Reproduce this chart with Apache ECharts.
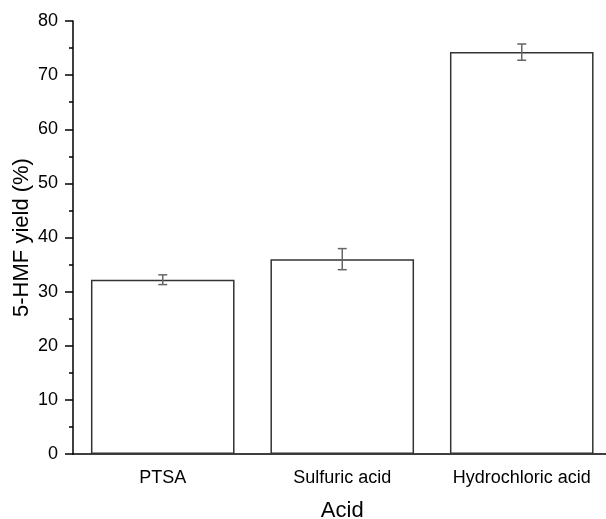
<!DOCTYPE html>
<html>
<head>
<meta charset="utf-8">
<script src="https://cdn.jsdelivr.net/npm/echarts@6/dist/echarts.min.js"></script>
<style>html,body{margin:0;padding:0;background:#fff}#c{width:606px;height:519px}</style>
</head>
<body>
<div id="c"></div>
<script>
var categories = ['PTSA', 'Sulfuric acid', 'Hydrochloric acid'];
var yieldValues = [32.2, 36.0, 74.25];
var yieldErrors = [0.9, 1.95, 1.5];
var yTicks = [0, 10, 20, 30, 40, 50, 60, 70, 80];

var chart = echarts.init(document.getElementById('c'));
var font = 'Liberation Sans, Arial, sans-serif';
chart.setOption({
  animation: false,
  grid: {left: 73, top: 21, bottom: 65, right: -5.5, outerBoundsMode: 'none', containLabel: false},
  xAxis: [{
    type: 'category',
    data: categories,
    name: 'Acid',
    nameLocation: 'middle',
    nameGap: 46,
    nameMoveOverlap: false,
    nameTextStyle: {fontFamily: font, fontSize: 22, color: '#000'},
    axisLine: {lineStyle: {color: '#000', width: 1.5}},
    axisTick: {alignWithLabel: true, length: 8, lineStyle: {color: '#000', width: 1.5}},
    axisLabel: {fontFamily: font, fontSize: 18, color: '#000', margin: 15}
  }, {
    type: 'category',
    data: categories,
    position: 'bottom',
    axisLine: {show: false},
    axisTick: {length: 4, lineStyle: {color: '#000', width: 1.5}},
    axisLabel: {show: false}
  }],
  yAxis: {
    type: 'value',
    min: 0, max: 80, interval: 10,
    name: '5-HMF yield (%)',
    nameLocation: 'middle',
    nameGap: 40,
    nameMoveOverlap: false,
    nameTextStyle: {fontFamily: font, fontSize: 22, color: '#000'},
    axisLine: {show: true, lineStyle: {color: '#000', width: 1.5}},
    axisTick: {show: true, length: 8, lineStyle: {color: '#000', width: 1.5}},
    minorTick: {show: true, splitNumber: 2, length: 4, lineStyle: {color: '#000', width: 1.5}},
    splitLine: {show: false},
    axisLabel: {fontFamily: font, fontSize: 18, color: '#000', margin: 15,
      formatter: function (v) { return yTicks.indexOf(v) >= 0 ? String(v) : ''; }}
  },
  series: [{
    type: 'bar',
    data: yieldValues,
    barWidth: '80%',
    itemStyle: {color: '#fff', borderColor: '#333', borderWidth: 1.5}
  }, {
    type: 'custom',
    data: yieldValues.map(function (v, i) { return [i, v - yieldErrors[i], v + yieldErrors[i]]; }),
    renderItem: function (params, api) {
      var lo = api.coord([api.value(0), api.value(1)]);
      var hi = api.coord([api.value(0), api.value(2)]);
      var hw = 4.5;
      var st = {stroke: '#666', lineWidth: 1.5};
      return {type: 'group', children: [
        {type: 'line', shape: {x1: lo[0], y1: lo[1], x2: hi[0], y2: hi[1]}, style: st},
        {type: 'line', shape: {x1: lo[0] - hw, y1: lo[1], x2: lo[0] + hw, y2: lo[1]}, style: st},
        {type: 'line', shape: {x1: hi[0] - hw, y1: hi[1], x2: hi[0] + hw, y2: hi[1]}, style: st}
      ]};
    },
    z: 5
  }]
});
</script>
</body>
</html>
